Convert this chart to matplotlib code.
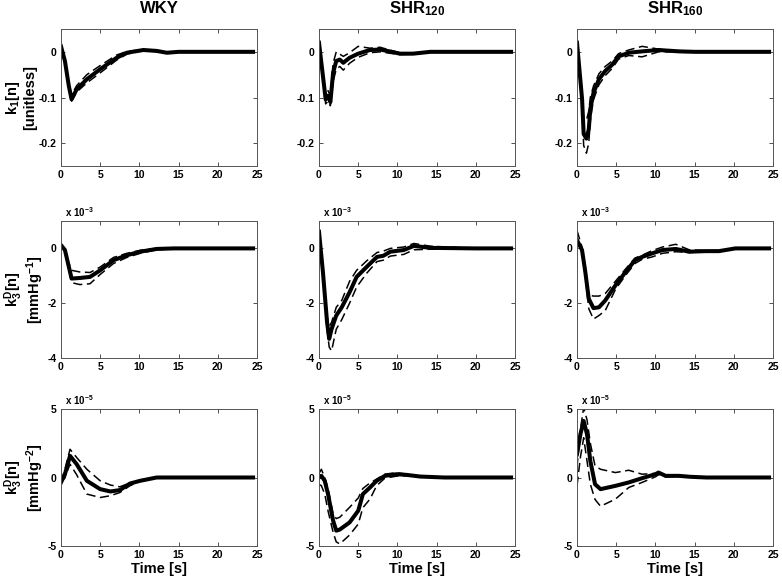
import matplotlib
matplotlib.use('Agg')
import matplotlib.pyplot as plt

plt.rcParams['font.family'] = ['Liberation Sans', 'DejaVu Sans']
plt.rcParams['font.weight'] = 'bold'
plt.rcParams['mathtext.fontset'] = 'custom'
plt.rcParams['mathtext.rm'] = 'Liberation Sans:bold'
plt.rcParams['mathtext.it'] = 'Liberation Sans:bold'
plt.rcParams['mathtext.bf'] = 'Liberation Sans:bold'
plt.rcParams['mathtext.default'] = 'rm'

# --- datos ---
titulos = ['WKY', r'SHR$_{120}$', r'SHR$_{160}$']
etiquetas_y = [r'k$_1$[n]' + '\n[unitless]',
               r'k$_3^D$[n]' + '\n' + r'[mmHg$^{-1}$]',
               r'k$_3^D$[n]' + '\n' + r'[mmHg$^{-2}$]']
escalas = ['', r'x 10$^{-3}$', r'x 10$^{-5}$']

# fila 1: k1 (sin unidades)
t_k1_wky = [0, 0.5, 1.0, 1.35, 2.0, 3.3, 5.0, 7.1, 8.4, 10.5, 12.2, 13.5, 15, 20, 24.5]
k1_wky = [0.012, -0.02, -0.075, -0.104, -0.082, -0.060, -0.038, -0.013, -0.002, 0.004, 0.002, -0.002, 0, 0, 0]
k1_wky_up = [0.012, -0.018, -0.068, -0.094, -0.074, -0.050, -0.030, -0.007, 0.001, 0.005, 0.002, -0.001, 0, 0, 0]
k1_wky_lo = [0.012, -0.022, -0.080, -0.108, -0.088, -0.068, -0.046, -0.018, -0.005, 0.003, 0.001, -0.003, 0, 0, 0]

t_k1_120 = [0, 0.85, 1.15, 1.45, 1.8, 2.2, 2.65, 3.1, 3.9, 5.0, 6.5, 7.8, 9.0, 10.3, 12.0, 14.2, 20, 24.5]
k1_120 = [0.02, -0.104, -0.096, -0.110, -0.046, -0.020, -0.017, -0.024, -0.013, -0.004, 0.004, 0.005, 0.001, -0.004, -0.004, 0, 0, 0]
k1_120_up = [0.02, -0.092, -0.085, -0.096, -0.025, 0.000, -0.005, -0.010, -0.002, 0.012, 0.008, 0.010, 0.004, -0.002, -0.003, 0.001, 0, 0]
k1_120_lo = [0.02, -0.114, -0.108, -0.118, -0.065, -0.038, -0.032, -0.040, -0.025, -0.012, -0.002, 0.000, -0.003, -0.006, -0.005, -0.001, 0, 0]

t_k1_160 = [0, 0.65, 0.85, 1.2, 1.5, 1.7, 2.1, 2.8, 3.6, 4.5, 5.3, 6.6, 8.3, 10.4, 13.0, 15, 20, 24.5]
k1_160 = [0.02, -0.104, -0.180, -0.190, -0.170, -0.125, -0.090, -0.060, -0.042, -0.028, -0.010, -0.002, 0.001, 0.004, 0.001, 0, 0, 0]
k1_160_up = [0.02, -0.090, -0.150, -0.150, -0.130, -0.100, -0.075, -0.048, -0.032, -0.020, -0.004, 0.004, 0.012, 0.006, 0.002, 0, 0, 0]
k1_160_lo = [0.02, -0.120, -0.205, -0.222, -0.200, -0.150, -0.105, -0.072, -0.052, -0.036, -0.016, -0.008, -0.011, 0.000, 0.000, 0, 0, 0]

# fila 2: k3D en x 10^-3 mmHg^-1
t_k3a_wky = [0, 0.5, 0.95, 1.35, 2.4, 3.7, 5.0, 6.7, 8.4, 10.1, 12.2, 14.4, 20, 24.5]
k3a_wky = [0.12, -0.06, -0.61, -1.10, -1.08, -1.04, -0.80, -0.43, -0.25, -0.12, -0.02, 0, 0, 0]
k3a_wky_up = [0.12, -0.04, -0.50, -0.80, -0.86, -0.88, -0.68, -0.33, -0.18, -0.07, 0.00, 0.02, 0, 0]
k3a_wky_lo = [0.12, -0.08, -0.72, -1.25, -1.32, -1.29, -0.95, -0.55, -0.33, -0.18, -0.05, -0.01, 0, 0]

t_k3a_120 = [0, 0.5, 1.03, 1.3, 1.6, 2.2, 2.9, 3.9, 4.8, 6.1, 7.4, 8.2, 9.1, 10.8, 12.1, 14.2, 20, 24.5]
k3a_120 = [0.61, -0.86, -2.70, -3.30, -2.95, -2.45, -2.15, -1.60, -1.04, -0.67, -0.31, -0.27, -0.12, -0.06, 0.09, 0.02, 0, 0]
k3a_120_up = [0.61, -0.80, -2.50, -2.85, -2.70, -2.15, -1.90, -1.20, -0.80, -0.45, -0.15, -0.10, 0.00, 0.05, 0.18, 0.08, 0, 0]
k3a_120_lo = [0.61, -0.92, -2.95, -3.60, -3.74, -2.95, -2.60, -2.00, -1.41, -0.90, -0.48, -0.43, -0.28, -0.22, -0.05, -0.03, 0, 0]

t_k3a_160 = [0, 0.64, 1.06, 1.5, 2.1, 2.8, 3.6, 4.9, 6.2, 7.4, 8.3, 9.6, 10.9, 12.6, 14.3, 16.4, 18.1, 20.2, 24.5]
k3a_160 = [0.30, -0.06, -0.86, -1.84, -2.18, -2.15, -1.90, -1.35, -0.86, -0.43, -0.31, -0.18, -0.06, -0.02, -0.12, -0.10, -0.10, 0, 0]
k3a_160_up = [0.65, 0.05, -0.70, -1.70, -1.74, -1.74, -1.65, -1.20, -0.75, -0.35, -0.25, -0.08, 0.05, 0.15, -0.05, -0.08, -0.08, 0, 0]
k3a_160_lo = [0.30, -0.15, -1.00, -2.20, -2.58, -2.45, -2.27, -1.50, -0.98, -0.55, -0.40, -0.31, -0.18, -0.12, -0.15, -0.12, -0.12, -0.01, 0]

# fila 3: k3D en x 10^-5 mmHg^-2
t_k3b_wky = [0, 0.5, 1.15, 2.0, 3.3, 5.0, 6.3, 7.5, 8.8, 10.1, 12.2, 15, 20, 24.5]
k3b_wky = [-0.36, 0.24, 1.58, 0.97, -0.24, -0.85, -1.02, -0.92, -0.44, -0.24, 0, 0, 0, 0]
k3b_wky_up = [-0.30, 0.60, 2.06, 1.46, 0.60, -0.24, -0.55, -0.68, -0.40, -0.20, 0, 0, 0, 0]
k3b_wky_lo = [-0.40, 0.00, 0.97, 0.20, -1.21, -1.46, -1.33, -1.10, -0.60, -0.28, 0, 0, 0, 0]

t_k3b_120 = [0, 0.3, 0.73, 1.15, 1.8, 2.2, 2.65, 3.9, 5.0, 5.6, 6.5, 7.35, 8.4, 9.9, 11.2, 12.9, 16, 24.5]
k3b_120 = [0.0, 0.12, -0.24, -1.21, -3.15, -3.88, -3.80, -3.28, -2.43, -1.21, -0.73, -0.24, 0.12, 0.24, 0.19, 0.07, 0, 0]
k3b_120_up = [0.3, 0.60, 0.00, -0.80, -2.67, -3.00, -2.90, -2.18, -1.50, -0.80, -0.40, -0.12, 0.25, 0.35, 0.25, 0.10, 0, 0]
k3b_120_lo = [-0.5, -0.60, -1.20, -2.43, -4.00, -4.70, -4.85, -4.20, -3.40, -2.20, -1.58, -0.60, -0.05, 0.10, 0.12, 0.05, 0, 0]

t_k3b_160 = [0, 0.43, 0.85, 1.28, 1.7, 2.3, 3.0, 4.9, 6.6, 8.3, 10.0, 10.4, 11.3, 13.0, 14.5, 16.5, 24.5]
k3b_160 = [1.70, 3.15, 4.13, 3.15, 1.21, -0.49, -0.85, -0.61, -0.36, -0.05, 0.24, 0.36, 0.12, 0.12, 0.05, 0, 0]
k3b_160_up = [0.73, 3.50, 5.10, 4.20, 2.50, 0.85, 0.60, 0.36, 0.53, 0.24, 0.30, 0.30, 0.20, 0.15, 0.05, 0, 0]
k3b_160_lo = [-0.60, 1.46, 2.90, 1.20, -0.49, -1.60, -2.10, -1.58, -0.73, -0.36, 0.05, 0.20, 0.05, 0.08, 0.03, 0, 0]

paneles = [
    [(t_k1_wky, k1_wky, k1_wky_up, k1_wky_lo),
     (t_k1_120, k1_120, k1_120_up, k1_120_lo),
     (t_k1_160, k1_160, k1_160_up, k1_160_lo)],
    [(t_k3a_wky, k3a_wky, k3a_wky_up, k3a_wky_lo),
     (t_k3a_120, k3a_120, k3a_120_up, k3a_120_lo),
     (t_k3a_160, k3a_160, k3a_160_up, k3a_160_lo)],
    [(t_k3b_wky, k3b_wky, k3b_wky_up, k3b_wky_lo),
     (t_k3b_120, k3b_120, k3b_120_up, k3b_120_lo),
     (t_k3b_160, k3b_160, k3b_160_up, k3b_160_lo)],
]
limites_y = [(-0.25, 0.05), (-4, 1), (-5, 5)]
ticks_y = [[-0.2, -0.1, 0], [-4, -2, 0], [-5, 0, 5]]
etiq_ticks_y = [['-0.2', '-0.1', '0'], ['-4', '-2', '0'], ['-5', '0', '5']]
ticks_x = [0, 5, 10, 15, 20, 25]

# --- figura ---
fig = plt.figure(figsize=(7.82, 5.82), dpi=100)
izq = [61, 319, 577]
arriba = [29, 221, 409]
ancho, alto = 196, 137
interlineado = [1.15, 0.95, 0.95]

for i in range(3):
    for j in range(3):
        ax = fig.add_axes([izq[j] / 782, 1 - (arriba[i] + alto) / 582, ancho / 782, alto / 582])
        t, m, up, lo = paneles[i][j]
        ax.plot(t, up, color='black', lw=1.1, ls=(0, (6, 3)))
        ax.plot(t, lo, color='black', lw=1.1, ls=(0, (6, 3)))
        ax.plot(t, m, color='black', lw=2.9, solid_joinstyle='round')
        ax.set_xlim(0, 25)
        ax.set_ylim(*limites_y[i])
        ax.set_xticks(ticks_x)
        ax.set_xticklabels([str(v) for v in ticks_x])
        ax.set_yticks(ticks_y[i])
        ax.set_yticklabels(etiq_ticks_y[i])
        ax.tick_params(direction='in', top=True, right=True, length=3, width=0.6,
                       labelsize=7.5, pad=3, colors='#333333', labelcolor='black')
        for s in ax.spines.values():
            s.set_color('#555555')
            s.set_linewidth(0.7)
        if escalas[i]:
            ax.text(0.02, 1.015, escalas[i], transform=ax.transAxes, fontsize=7,
                    fontweight='bold', ha='left', va='bottom')
        if i == 0:
            ax.annotate(titulos[j], xy=(0.5, 1), xycoords='axes fraction',
                        xytext=(0, 11.5), textcoords='offset points',
                        ha='center', va='baseline', fontsize=12, fontweight='bold')
        if j == 0:
            ax.set_ylabel(etiquetas_y[i], fontsize=10.5, fontweight='bold', labelpad=1,
                          linespacing=interlineado[i])
        if i == 2:
            ax.set_xlabel('Time [s]', fontsize=10.5, fontweight='bold', labelpad=1)

fig.savefig('out.png', dpi=100)
